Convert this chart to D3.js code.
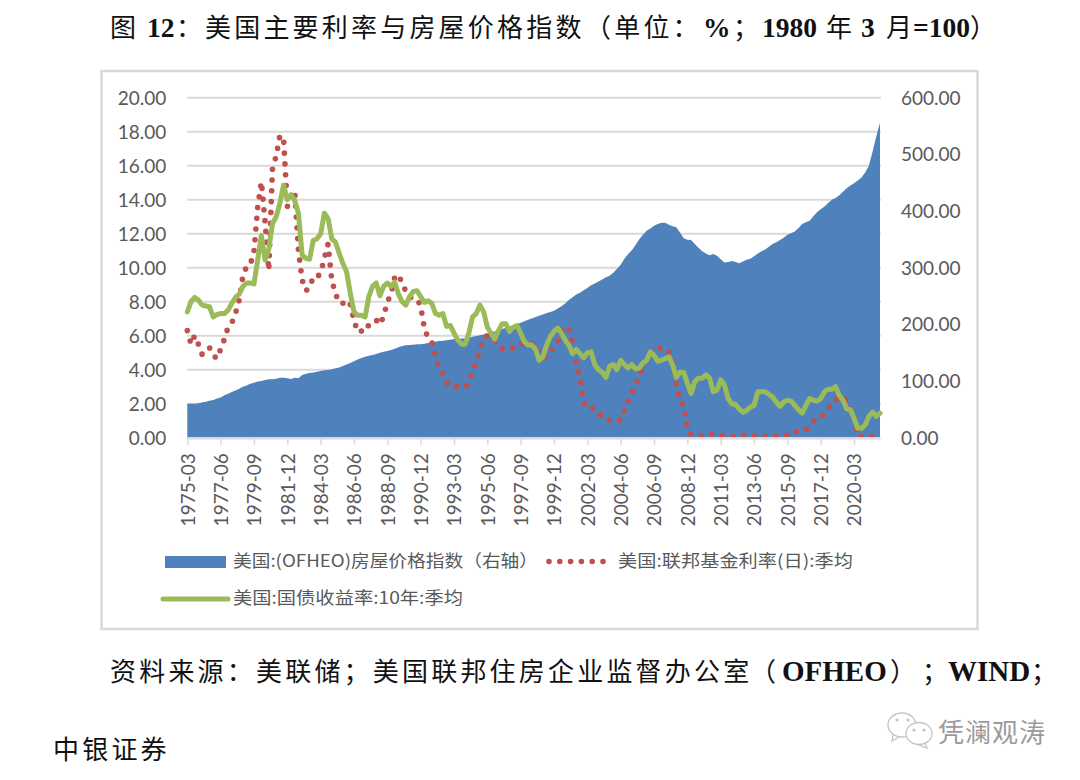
<!DOCTYPE html>
<html>
<head>
<meta charset="utf-8">
<script src="https://cdn.jsdelivr.net/npm/d3@7"></script>
<style>
  body { margin: 0; background: #fff; }
  svg { display: block; }
  .num text { font-family: Lato, sans-serif; font-size: 19px; fill: #595959; }
  .leg { font-family: "Noto Sans CJK SC", sans-serif; font-size: 17px; fill: #595959; }
  .cap { font-family: "Noto Sans CJK SC", sans-serif; font-size: 26px; fill: #111; letter-spacing: 3.2px; }
  .latin { font-family: "Liberation Serif", serif; font-weight: bold; letter-spacing: 0; }
</style>
</head>
<body>
<svg width="1080" height="780"></svg>
<script>
// 季度 1975-03 .. 2021-12
var tickLabels = ['1975-03','1977-06','1979-09','1981-12','1984-03','1986-06','1988-09','1990-12','1993-03','1995-06',
  '1997-09','1999-12','2002-03','2004-06','2006-09','2008-12','2011-03','2013-06','2015-09','2017-12','2020-03'];

var leftTicks = [0,2,4,6,8,10,12,14,16,18,20];
var rightTicks = [0,100,200,300,400,500,600];

// 房屋价格指数（右轴）
var hpi = [60,60,60,61, 62,63.5,65,66.5, 69,71,74.7,77.6, 80.6,83.5,86.5,90, 92,95,97,99,
  100,102,103,103, 104,106,106,104.7, 103.5,106,104.7,110.6, 113,114,115,116.5, 117.6,119,119.4,121,
  122.4,124,126.5,129, 132,135,138,140.6, 143,144.7,146,147.6, 150,151.8,153,154.7, 157,159.4,161.8,163,
  163.5,164,164.7,164.7, 166,167,168,169.4, 170.6,171,172,173, 174,174.7,175,175, 176.5,178,179.4,180.6,
  182,184,186,187.6, 190,192,194,196, 198,200.5,203,205.5, 208,210.5,213,215, 217.5,220,222,224,
  228,232,237,243, 248,252.5,256,260, 264,269,272,275.5, 279,283,286,291, 298,305,316,324,
  331,340,350,358, 365,369,374,377, 379.5,379.5,376,373, 371.5,362,352,349.5, 349,342,335,329,
  325,322,324,321, 315,309,310,312, 310,308,311,314, 316,320,325,329, 332,337,342,345,
  349,353,358,361, 364,370,377,380, 383,391,398,403, 408,414,420,423, 428,434,440,445,
  449,454,459,468, 480,505,532,556];

// 联邦基金利率
var fedFunds = [6.3,5.5,6.0,5.5, 4.9,5.15,5.3,4.85, 4.65,5.2,5.8,6.5, 6.75,7.3,8.1,9.5, 10.07,10.18,10.95,13.58,
  15.05,12.69,9.84,15.85, 16.57,17.78,17.58,13.59, 14.23,14.51,11.01,9.29, 8.65,8.8,9.46,9.43, 9.69,10.56,11.39,9.27,
  8.48,7.92,7.9,8.1, 7.83,6.92,6.21,6.27, 6.22,6.65,6.84,6.92, 6.65,7.15,7.98,8.47, 9.45,9.6,9.08,8.61,
  8.25,8.24,8.16,7.74, 6.43,5.86,5.65,4.82, 4.02,3.77,3.26,3.04, 3.04,3.0,3.06,2.99, 3.21,3.94,4.49,5.17,
  5.81,6.02,5.8,5.72, 5.36,5.24,5.31,5.28, 5.28,5.52,5.53,5.51, 5.52,5.5,5.53,4.86, 4.73,4.75,5.09,5.31,
  5.68,6.27,6.52,6.47, 5.59,4.33,3.5,2.13, 1.73,1.75,1.74,1.44, 1.25,1.25,1.02,1.0, 1.0,1.03,1.61,2.16,
  2.63,3.04,3.62,4.16, 4.59,4.99,5.25,5.25, 5.26,5.25,5.07,4.5, 3.18,2.09,1.94,0.51, 0.18,0.18,0.16,0.12,
  0.13,0.19,0.19,0.19, 0.16,0.09,0.08,0.07, 0.1,0.15,0.14,0.16, 0.14,0.12,0.08,0.09, 0.07,0.09,0.09,0.1,
  0.11,0.13,0.14,0.16, 0.36,0.37,0.4,0.45, 0.7,0.95,1.15,1.2, 1.45,1.74,1.92,2.22, 2.4,2.4,2.19,1.64,
  1.25,0.06,0.09,0.09, 0.08,0.07,0.09,0.08];

// 国债收益率 10年
var treasury10y = [7.4,8.0,8.25,8.1, 7.8,7.75,7.7,7.1, 7.25,7.3,7.3,7.5, 7.9,8.25,8.45,8.9, 9.1,9.1,9.05,10.45,
  11.9,10.45,11.1,12.6, 13.0,13.8,14.86,14.0, 14.3,13.95,13.2,10.75, 10.55,10.5,11.6,11.7, 12.0,13.2,12.9,11.7,
  11.5,10.85,10.25,9.76, 8.5,7.4,7.2,7.2, 7.1,8.3,8.9,9.1, 8.35,8.9,9.1,8.9, 9.15,8.45,8.0,7.8,
  8.3,8.6,8.65,8.3, 7.95,8.05,7.9,7.3, 7.2,7.3,6.55,6.6, 6.15,5.75,5.5,5.5, 6.15,7.1,7.3,7.8,
  7.4,6.5,6.15,5.8, 6.3,6.7,6.7,6.25, 6.5,6.6,6.15,5.65, 5.45,5.45,5.2,4.55, 4.75,5.45,5.95,6.25,
  6.45,6.15,5.75,5.45, 4.95,5.2,4.95,4.7, 5.0,5.05,4.3,4.0, 3.85,3.55,4.2,4.3, 4.0,4.55,4.3,4.1,
  4.3,4.05,4.1,4.4, 4.55,5.05,4.85,4.5, 4.55,4.65,4.75,4.3, 3.55,3.85,3.85,3.2, 2.6,3.3,3.5,3.5,
  3.7,3.5,2.7,2.8, 3.4,3.1,2.3,2.0, 1.95,1.7,1.5,1.6, 1.8,1.9,2.7,2.7, 2.7,2.55,2.4,2.1,
  1.85,2.1,2.2,2.15, 1.9,1.65,1.45,1.9, 2.3,2.2,2.15,2.3, 2.7,2.85,2.85,3.0, 2.5,2.2,1.7,1.65,
  1.15,0.55,0.55,0.75, 1.25,1.5,1.25,1.45];

var quarters = [];
for (var yr = 1975; yr <= 2021; yr++) {
  ['03','06','09','12'].forEach(function(m){ quarters.push(yr + '-' + m); });
}

var svg = d3.select('svg');
var plot = {left: 187.3, right: 880, top: 97.7, bottom: 437.7};

var x = d3.scalePoint().domain(quarters).range([plot.left, plot.right]);
var yL = d3.scaleLinear().domain([0, 20]).range([plot.bottom, plot.top]);
var yR = d3.scaleLinear().domain([0, 600]).range([plot.bottom, plot.top]);

// 外框
svg.append('rect')
   .attr('x', 101.5).attr('y', 71).attr('width', 876).attr('height', 558)
   .attr('fill', '#fff').attr('stroke', '#d9d9d9').attr('stroke-width', 2.5);

// 网格线
svg.selectAll('line.grid')
   .data(leftTicks.slice(1))
   .enter()
   .append('line')
   .attr('class', 'grid')
   .attr('x1', plot.left).attr('x2', plot.right + 1)
   .attr('y1', function(d){ return yL(d); })
   .attr('y2', function(d){ return yL(d); })
   .attr('stroke', '#d9d9d9').attr('stroke-width', 2);

// 面积
var area = d3.area()
  .x(function(d, i){ return x(quarters[i]); })
  .y0(plot.bottom)
  .y1(function(d){ return yR(d); });
svg.append('path').attr('d', area(hpi)).attr('fill', '#4f81bd');

var line = function(values){
  return d3.line()
    .x(function(d, i){ return x(quarters[i]); })
    .y(function(d){ return yL(d); })(values);
};

svg.append('path').attr('d', line(fedFunds))
   .attr('fill', 'none').attr('stroke', '#c0504d').attr('stroke-width', 5.6)
   .attr('stroke-linecap', 'round').attr('stroke-dasharray', '0 10.8');
svg.append('path').attr('d', line(treasury10y))
   .attr('fill', 'none').attr('stroke', '#9bbb59').attr('stroke-width', 5)
   .attr('stroke-linejoin', 'round').attr('stroke-linecap', 'round');

// 坐标轴
var axisB = svg.append('g').attr('class', 'num')
   .attr('transform', 'translate(0,' + plot.bottom + ')')
   .call(d3.axisBottom(x).tickValues(tickLabels).tickSize(7).tickSizeOuter(0));
axisB.selectAll('line').attr('stroke', '#d9d9d9').attr('stroke-width', 1.5);
axisB.select('.domain').attr('stroke', '#d9d9d9').attr('stroke-width', 2.5);
axisB.selectAll('text')
   .attr('transform', 'rotate(-90)')
   .attr('x', -15.5).attr('y', 0).attr('dy', '0.36em')
   .attr('text-anchor', 'end');

var axisL = svg.append('g').attr('class', 'num')
   .attr('transform', 'translate(' + (plot.left - 19) + ',0.5)')
   .call(d3.axisLeft(yL).tickValues(leftTicks).tickSize(0).tickPadding(2).tickFormat(d3.format('.2f')));
axisL.select('.domain').remove();

var axisR = svg.append('g').attr('class', 'num')
   .attr('transform', 'translate(' + 901 + ',0.5)')
   .call(d3.axisRight(yR).tickValues(rightTicks).tickSize(0).tickPadding(0).tickFormat(d3.format('.2f')));
axisR.select('.domain').remove();

// 图例
svg.append('rect').attr('x', 165).attr('y', 556).attr('width', 61).attr('height', 12).attr('fill', '#4f81bd');
svg.append('text').attr('class', 'leg').attr('x', 233).attr('y', 567)
   .attr('textLength', 305).attr('lengthAdjust', 'spacingAndGlyphs').text('美国:(OFHEO)房屋价格指数（右轴）');
svg.append('line').attr('x1', 549).attr('x2', 606).attr('y1', 561.5).attr('y2', 561.5)
   .attr('stroke', '#c0504d').attr('stroke-width', 5.6).attr('stroke-linecap', 'round').attr('stroke-dasharray', '0 10.8');
svg.append('text').attr('class', 'leg').attr('x', 618).attr('y', 567)
   .attr('textLength', 235).attr('lengthAdjust', 'spacingAndGlyphs').text('美国:联邦基金利率(日):季均');
svg.append('line').attr('x1', 163).attr('x2', 228).attr('y1', 599).attr('y2', 599)
   .attr('stroke', '#9bbb59').attr('stroke-width', 5).attr('stroke-linecap', 'round');
svg.append('text').attr('class', 'leg').attr('x', 233).attr('y', 604)
   .attr('textLength', 230).attr('lengthAdjust', 'spacingAndGlyphs').text('美国:国债收益率:10年:季均');

// 标题和来源：中文与西文分段摆放
var putText = function(parts, baseline, latinSize){
  var t = svg.append('text').attr('class', 'cap').attr('y', baseline);
  parts.forEach(function(p){
    var s = t.append('tspan').attr('x', p[1]).text(p[0]);
    if (p[2]) s.attr('class', 'latin').style('font-size', latinSize + 'px');
  });
};

putText([
  ['图', 110], ['12', 147, true], ['：', 176], ['美国主要利率与房屋价格指数', 205],
  ['（单位：', 585], ['%', 703, true], ['；', 733], ['1980', 762, true], ['年', 826],
  ['3', 861, true], ['月', 886], ['=100', 913, true], ['）', 970]
], 37, 27.5);

putText([
  ['资料来源：美联储；美国联邦住房企业监督办公室', 110], ['（', 750], ['OFHEO', 782, true],
  ['）', 890], ['；', 922], ['WIND', 948, true], ['；', 1031]
], 681, 29);

svg.append('text').attr('class', 'cap').attr('x', 53).attr('y', 759).text('中银证券');

// 水印
var wm = svg.append('g').attr('fill', '#fff').attr('stroke', '#c4c4c4').attr('stroke-width', 1.3);
wm.append('path').attr('d', 'M893 734 L892 741 L899 737 Z');
wm.append('ellipse').attr('cx', 902).attr('cy', 725).attr('rx', 14).attr('ry', 12);
wm.append('path').attr('d', 'M924 741 L927 748 L917 744 Z');
wm.append('ellipse').attr('cx', 919).attr('cy', 733.5).attr('rx', 13).attr('ry', 11);
svg.append('g').attr('fill', '#c4c4c4').selectAll('circle')
   .data([[897,720],[908,720],[914,730],[924,730]])
   .enter()
   .append('circle')
   .attr('cx', function(d){ return d[0]; })
   .attr('cy', function(d){ return d[1]; })
   .attr('r', 1.6);
svg.append('text').attr('x', 938).attr('y', 742)
   .attr('font-family', '"Noto Sans CJK SC", sans-serif').attr('font-size', 26).attr('fill', '#9a9a9a')
   .attr('textLength', 107).text('凭澜观涛');
</script>
</body>
</html>
